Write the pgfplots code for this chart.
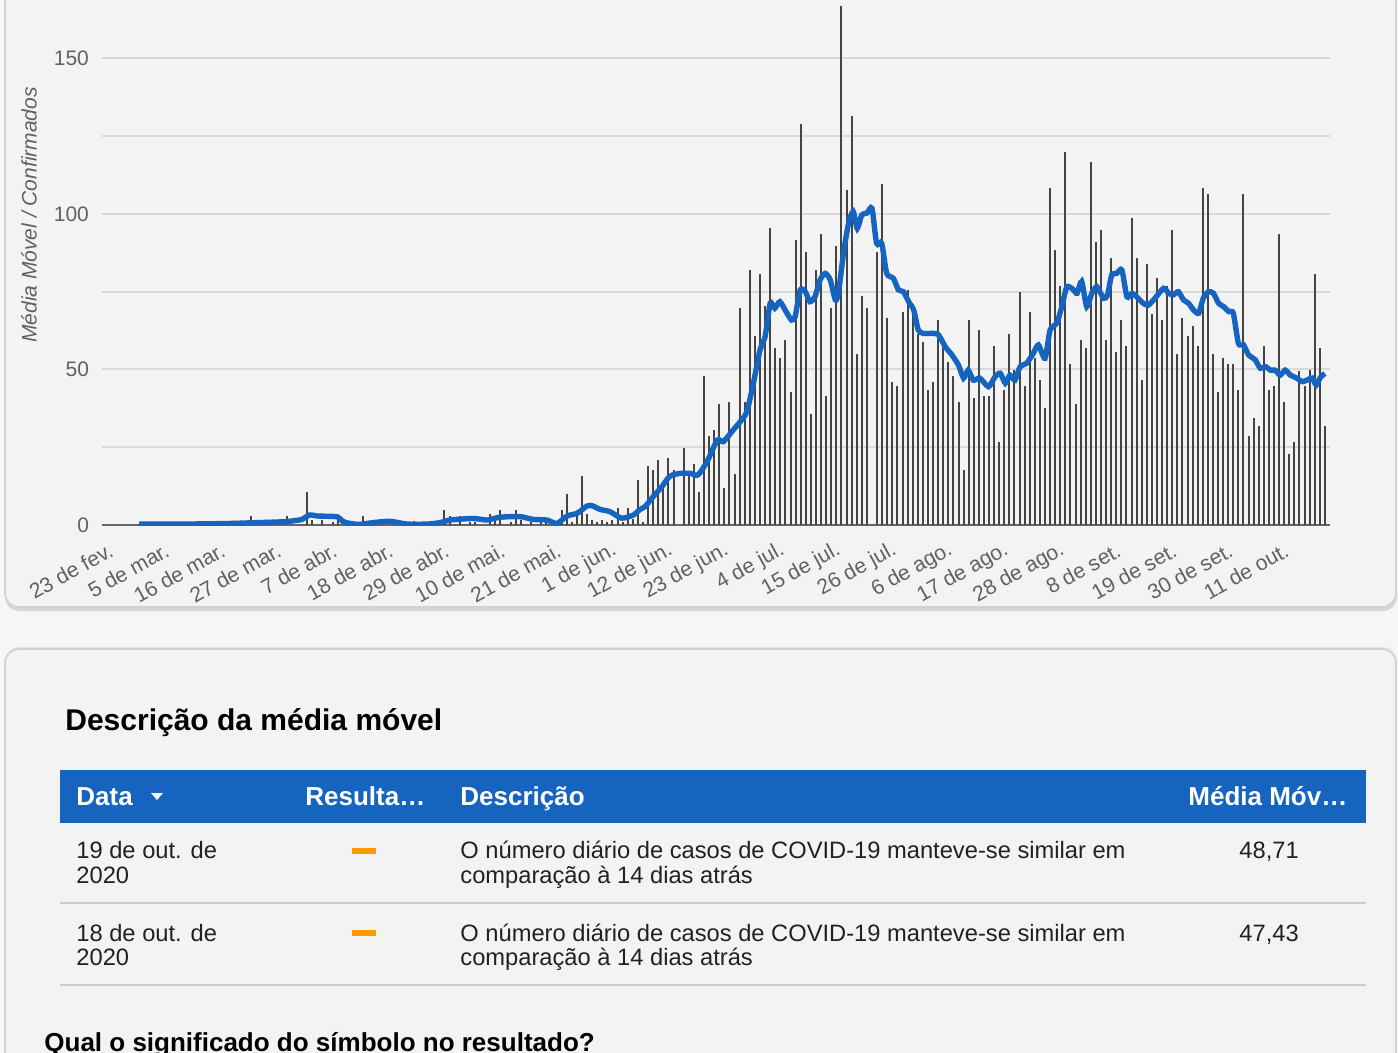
\documentclass[border=0pt]{standalone}
\usepackage{fontspec}
\setmainfont{Liberation Sans}
\usepackage{pgfplots}
\pgfplotsset{compat=1.18}
\definecolor{pagebg}{HTML}{F6F6F6}
\definecolor{cardbg}{HTML}{F3F3F3}
\definecolor{cardborder}{HTML}{D2D2D2}
\definecolor{gridc}{HTML}{D9D9D9}
\definecolor{barc}{HTML}{444444}
\definecolor{linec}{HTML}{1565C0}
\definecolor{tickc}{HTML}{616161}
\definecolor{axisc}{HTML}{666666}
\definecolor{txt}{HTML}{212121}
\definecolor{dashc}{HTML}{FF9800}
\definecolor{sepc}{HTML}{CCCCCC}
\begin{document}
\begin{tikzpicture}
\useasboundingbox (0pt,0pt) rectangle (699pt,-526.5pt);
\clip (0pt,0pt) rectangle (699pt,-526.5pt);
\begin{scope}[x=0.5pt,y=-0.5pt]
\fill[pagebg] (0,0) rectangle (1398,1053);
% card 1
\fill[black!16, rounded corners=7pt] (5,-60) rectangle (1397,611);
\filldraw[fill=cardbg, draw=cardborder, line width=0.8pt, rounded corners=7pt] (5,-60) rectangle (1396,607);
% card 2
\fill[black!10, rounded corners=7pt] (5,647) rectangle (1397,1120);
\filldraw[fill=cardbg, draw=cardborder, line width=0.8pt, rounded corners=7pt] (5,649) rectangle (1396,1120);
\end{scope}
\begin{axis}[
  at={(51pt,-262.5pt)}, anchor=south west,
  width=614pt, height=262.5pt, scale only axis,
  xmin=-1.3, xmax=240, ymin=0, ymax=168.8,
  axis line style={draw=none},
  major tick length=0pt, minor tick length=0pt,
  ytick={0,50,100,150}, minor ytick={25,75,125},
  ymajorgrids, yminorgrids,
  grid style={gridc, line width=1pt},
  minor grid style={gridc, line width=1pt},
  xtick={0,11,...,231},
  xticklabels={23 de fev.,5 de mar.,16 de mar.,27 de mar.,7 de abr.,18 de abr.,29 de abr.,10 de mai.,21 de mai.,1 de jun.,12 de jun.,23 de jun.,4 de jul.,15 de jul.,26 de jul.,6 de ago.,17 de ago.,28 de ago.,8 de set.,19 de set.,30 de set.,11 de out.},
  xticklabel style={rotate=29, anchor=east, font=\fontsize{10.6}{12}\selectfont, text=tickc, inner sep=1pt, yshift=-11pt, xshift=-3.5pt},
  yticklabel style={font=\fontsize{10.5}{12}\selectfont, text=tickc, xshift=-3pt},
  /pgf/number format/assume math mode=true,
]
\draw[axisc, line width=1.3pt] (axis cs:-1.3,0) -- (axis cs:240,0);
\addplot[ycomb, barc, line width=1pt, mark=none] coordinates {
(28,2.9)(35,2.9)(39,10.6)(40,1.6)(42,1.6)(44,1)(45,2.1)(50,2.9)(60,1.4)
(66,4.8)(67,2.9)(69,2.9)(71,1)(72,1)(75,3.5)(76,1.6)(77,4.8)(79,1)(80,4.8)
(81,1.6)(83,1)(85,1)(86,1.6)(89,4.8)(90,10)(91,1)(92,2.9)(93,15.8)(94,3.5)
(95,1.6)(96,1)(97,1.6)(98,1)(99,1.6)(100,5.5)(101,1)(102,5.5)(103,2)(104,14.5)
(105,1)(106,19)(107,17.7)(108,20.9)(109,13.2)(110,21.5)(111,17.7)(113,24.8)
(114,15.8)(115,19.6)(116,10.6)(117,47.9)(118,28.6)(119,30.5)(120,38.9)(121,11.9)
(122,39.5)(123,16.4)(124,69.8)(125,39.6)(126,82)(127,60.8)(128,80.7)(129,70.4)
(130,95.5)(131,56.9)(132,53.7)(133,59.5)(134,42.8)(135,91.6)(136,128.9)(137,87.8)
(138,35.7)(139,82)(140,93.6)(141,41.5)(142,69.8)(143,89.7)(144,167)(145,107.7)
(146,131.5)(147,55)(148,73.6)(149,69.8)(151,87.8)(152,109.6)(153,66.6)
(154,46)(155,44.7)(156,68.5)(157,75.6)(158,69.1)(159,61.4)(160,58.8)(161,43.4)
(162,46)(163,65.9)(164,57.6)(165,52.4)(166,47.9)(167,39.5)(168,17.7)(169,65.9)
(170,40.8)(171,62.7)(172,41.5)(173,41.5)(174,57.6)(175,26.7)(176,43.4)(177,61.4)
(178,49.8)(179,74.9)(180,44.7)(181,68.5)(182,53.7)(183,46.6)(184,37.6)(185,108.4)
(186,88.4)(187,76.8)(188,119.9)(189,51.8)(190,38.9)(191,59.5)(192,56.9)(193,116.7)
(194,91)(195,94.9)(196,59.5)(197,85.9)(198,55.6)(199,65.9)(200,57.6)(201,98.7)
(202,85.9)(203,46.6)(204,83.9)(205,67.8)(206,79.4)(207,65.9)(208,76.8)(209,94.9)
(210,55)(211,66.6)(212,60.8)(213,64)(214,57.6)(215,108.4)(216,106.4)(217,55)
(218,42.8)(219,53.7)(220,51.8)(221,51.8)(222,43.4)(223,106.4)(224,28.6)(225,34.4)
(226,31.8)(227,57.6)(228,43.4)(229,44.7)(230,93.6)(231,39.5)(232,22.8)(233,26.7)
(234,49.5)(235,44.7)(236,49.8)(237,80.7)(238,56.9)(239,31.8)
};
\addplot[linec, line width=2.7pt, smooth, tension=0.4, mark=none] coordinates {
(6,0.3)(10,0.3)(15,0.3)(20,0.4)(24,0.5)(28,0.7)(32,0.9)(35,1.1)(37,1.5)(38,1.8)
(39.5,3.2)(41,2.9)(43,2.8)(45,2.6)(46,1.2)(47.4,0.5)(49.4,0.2)(51.9,0.75)(55.3,1.2)
(58.6,0.3)(62.6,0.3)(65.1,0.75)(67.1,1.6)(71.6,2.1)(74.4,1.6)(76.9,2.5)(80.8,2.7)
(83.4,1.8)(86.1,1.6)(88.1,0.5)(90.1,2.9)(92.1,3.8)(94,6.1)(95,6.2)(96.6,5.0)
(98.5,4.3)(100.8,2.2)(103.1,3.2)(104.4,5.0)(105.4,5.9)(107,9.1)(108.7,12.3)
(110.3,15.7)(112.3,16.6)(114.3,16.6)(115.8,16.1)(117.6,20.4)(119.6,27.3)(120.8,26.8)
(122.7,30.5)(124.1,33.2)(125.4,36.4)(126.7,45.6)(128,56.3)(129,60.6)(130,71.3)
(130.9,69.7)(131.9,71.8)(133.3,68.1)(134.2,65.9)(134.9,67)(135.9,75.6)(136.9,75)
(137.8,71.8)(138.8,73.4)(139.8,78.8)(140.8,80.9)(141.8,78.8)(142.8,72.4)(143.4,74.5)
(144.4,87.4)(145.4,97)(146.3,100.8)(147.1,95.4)(148,99.7)(149,100.3)(150,101.8)
(150.9,90.6)(151.9,90.6)(152.9,80.9)(154.2,79.3)(155.2,75.6)(156.2,75)(157.2,71.8)
(158.2,69.1)(159.1,62.7)(160.1,61.6)(162.1,61.6)(163.1,61.1)(164.4,57.3)(165.7,54.7)
(167,51.4)(168,47.2)(168.9,49.8)(169.9,46.6)(171.2,47.2)(172.9,44.5)(174.2,47.7)
(175.2,48.8)(176.2,45.6)(177.1,48.2)(178.1,46.6)(179.1,50.9)(180.4,52)(181.7,55.2)
(182.7,57.9)(184,53.6)(185,62.7)(186.3,64.9)(187.3,70.2)(188.3,76.6)(189.6,75.6)
(190.3,74.5)(191.2,78.3)(192.2,70.2)(193.2,74.5)(194.2,76.6)(195.5,72.9)(196.3,74)
(197.1,80.4)(198.1,80.9)(199.1,82)(200.1,73.4)(201.1,74.5)(202,73.4)(203.3,71.3)
(204.3,70.7)(205.6,72.9)(207.3,76.1)(208.3,74.5)(209.2,74)(210.2,75)(211.2,72.4)
(212.2,71.3)(213.2,69.1)(214.2,68.1)(215.1,72.9)(216.1,75)(217.1,74.5)(218.1,71.3)
(219.1,70.2)(220.1,68.6)(221,68.1)(222,58.4)(223,57.9)(224,54.7)(225.3,53.1)
(226.3,50.4)(227.3,50.9)(228.3,49.8)(229.2,49.8)(230.2,48.2)(231.2,49.8)(232.2,48.2)
(233.5,47.2)(234.5,46.1)(235.5,46.6)(236.5,47.2)(237.3,45)(238.1,47.43)(239,48.71)
};
\end{axis}
\begin{scope}[x=0.5pt,y=-0.5pt]
\node[rotate=90, inner sep=0, font=\fontsize{10.5}{12}\selectfont\itshape, text=tickc] at (29,215) {Média Móvel / Confirmados};
\node[anchor=base west, inner sep=0, text=black, font=\fontsize{15}{18}\selectfont\bfseries] at (65,730) {Descrição da média móvel};
\fill[linec] (60,770) rectangle (1366,823);
\begin{scope}[every node/.style={anchor=base west, inner sep=0, text=white, font=\fontsize{13}{15}\selectfont\bfseries}]
\node at (76,805) {Data};
\node at (305,805) {Resulta…};
\node at (460,805) {Descrição};
\node at (1188,805) {Média Móv…};
\end{scope}
\fill[white] (151,793) -- (163,793) -- (157,800) -- cycle;
\begin{scope}[every node/.style={anchor=base west, inner sep=0, text=txt, font=\fontsize{11.85}{13}\selectfont}]
\node at (76,858) {19 de out. de};
\node at (76,883) {2020};
\node at (460,858) {O número diário de casos de COVID-19 manteve-se similar em};
\node at (460,883) {comparação à 14 dias atrás};
\node at (1239,858) {48,71};
\node at (76,941) {18 de out. de};
\node at (76,965) {2020};
\node at (460,941) {O número diário de casos de COVID-19 manteve-se similar em};
\node at (460,965) {comparação à 14 dias atrás};
\node at (1239,941) {47,43};
\end{scope}
\fill[dashc] (352,848) rectangle (376,854);
\fill[dashc] (352,930) rectangle (376,936);
\draw[sepc, line width=1pt] (60,903) -- (1366,903);
\draw[sepc, line width=1pt] (60,985) -- (1366,985);
\node[anchor=base west, inner sep=0, text=black, font=\fontsize{13}{15}\selectfont\bfseries] at (44,1051) {Qual o significado do símbolo no resultado?};
\end{scope}
\end{tikzpicture}
\end{document}
